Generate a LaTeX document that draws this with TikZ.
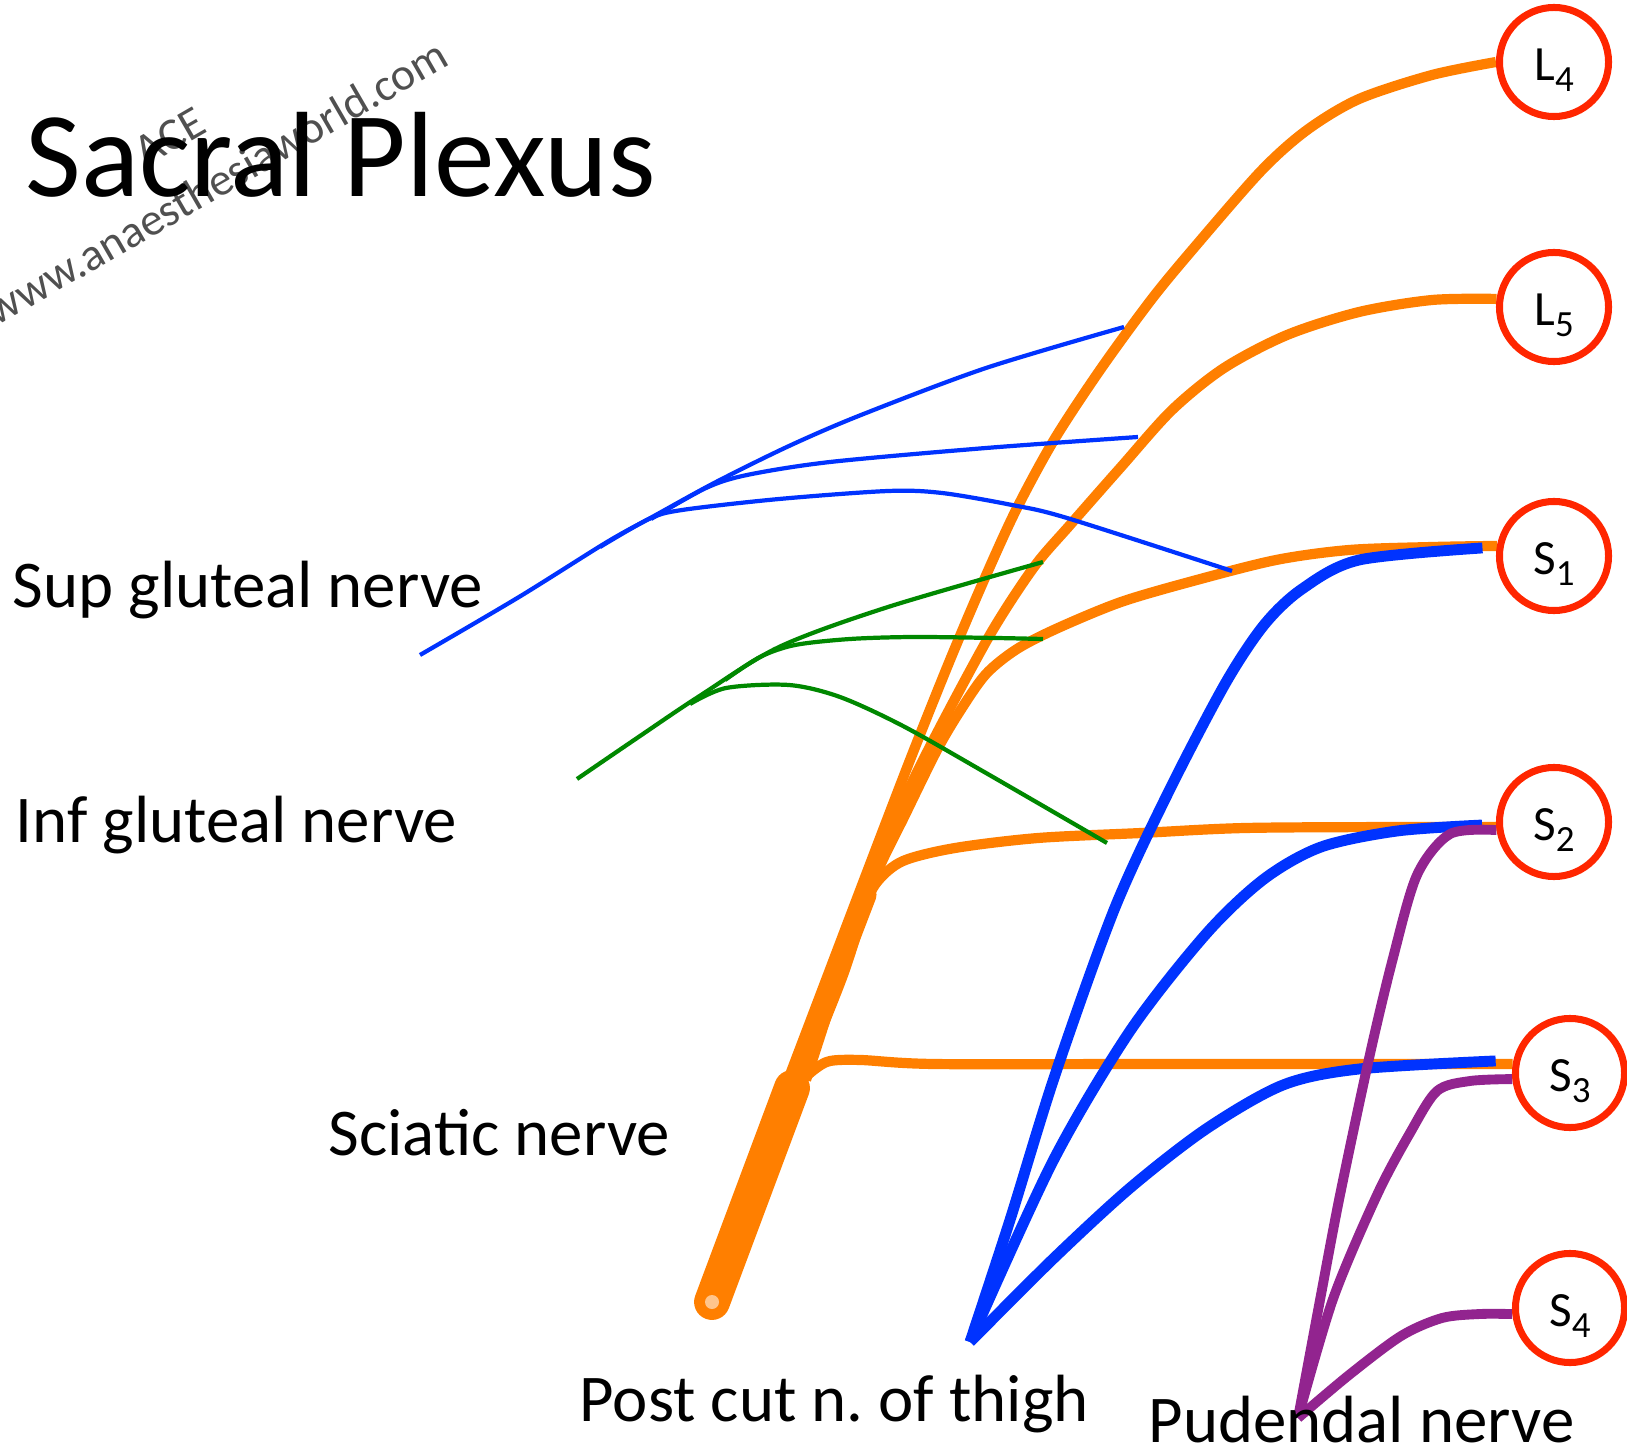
\documentclass[tikz,border=0pt]{standalone}
\usepackage{fontspec}
\setmainfont{Carlito}
\usetikzlibrary{backgrounds}
\definecolor{Root}{RGB}{255,127,0}
\definecolor{Ring}{RGB}{255,38,0}
\definecolor{SupBlue}{RGB}{0,51,255}
\definecolor{InfGreen}{RGB}{0,136,0}
\definecolor{Pud}{RGB}{146,36,143}
\definecolor{Mark}{RGB}{80,80,80}
\newcommand\segsub[1]{\raisebox{-3pt}{\fontsize{10.5}{12}\selectfont #1}}

\begin{document}
\begin{tikzpicture}[x=0.01cm,y=-0.01cm,
    ring/.style={circle,draw=Ring,line width=2pt,minimum size=1.09cm,inner sep=0pt,text height=10.6pt,text depth=0pt,font=\fontsize{14}{16}\selectfont},
    root/.style={Root,line width=2.9pt},
    twig/.style={line width=1.2pt},
    pcut/.style={SupBlue,line width=3.1pt},
    pud/.style={Pud,line width=2.8pt},
    lbl/.style={anchor=base west,inner sep=0pt,font=\fontsize{19}{22}\selectfont},
    wmark/.style={rotate=30,inner sep=0pt,text=Mark,font=\fontsize{13}{15}\selectfont}]
  \useasboundingbox (0,0) rectangle (1627,1449);

  \node[wmark,anchor=base east] (url) at (452,64) {www.anaesthesiaworld.com};
  \node[wmark] (ace) at (170,137) {ACE};
  \node[anchor=base west,inner sep=0pt,font=\fontsize{34.5}{40}\selectfont] (title) at (25,197) {Sacral Plexus};

  \node[lbl] (supl) at (12,607) {Sup gluteal nerve};
  \node[lbl] (infl) at (15,842) {Inf gluteal nerve};
  \node[lbl] (scil) at (328,1155) {Sciatic nerve};
  \node[lbl] (postl) at (579,1421) {Post cut n.\ of thigh};
  \node[lbl] (pudl) at (1148,1442) {Pudendal nerve};

  \node[ring] (L4) at (1554,62) {L\segsub{4}};
  \node[ring] (L5) at (1554,307) {L\segsub{5}};
  \node[ring] (S1) at (1554,556) {S\segsub{1}};
  \node[ring] (S2) at (1554,822) {S\segsub{2}};
  \node[ring] (S3) at (1570,1073) {S\segsub{3}};
  \node[ring] (S4) at (1570,1308) {S\segsub{4}};

  \coordinate (top) at (792,1088);
  \coordinate (fork) at (866,895);
  \coordinate (foot) at (712,1302);
  \coordinate (supfree) at (420,655);
  \coordinate (sup1) at (1124,327);
  \coordinate (sup2) at (1138,437);
  \coordinate (sup3) at (1232,571);
  \coordinate (inffree) at (577,779);
  \coordinate (inf1) at (1043,562);
  \coordinate (inf2) at (1043,639);
  \coordinate (inf3) at (1107,843);
  \coordinate (pc) at (970,1342);
  \coordinate (pd) at (1298,1418);

  \begin{scope}[on background layer]
    \draw[root] plot[smooth] coordinates {(L4.180) (1432,75) (1359,99) (1307,130) (1261,171) (1193,249) (1151,300) (1100,370) (1054,440) (1016,510) (984,580) (950,660) (910,760) (864,880) (826,980) (788,1080)};
    \draw[root] plot[smooth] coordinates {(L5.172) (1432,300) (1359,312) (1287,335) (1224,368) (1172,410) (1121,467) (1070,525) (1034,567) (991,633) (937,733) (904,800) (872,880) (840,975) (806,1080)};
    \draw[root] plot[smooth] coordinates {(S1.170) (1432,547) (1349,550) (1276,560) (1193,581) (1121,602) (1058,628) (1017,649) (986,674) (960,711) (937,750) (905,815) (874,880) (843,975) (800,1082)};
    \draw[root] plot[smooth] coordinates {(S2.185) (1401,827) (1245,828) (1141,833) (1038,838) (955,848) (903,861) (877,882) (861,913) (846,955) (825,1017) (796,1085)};
    \draw[root] plot[smooth] coordinates {(S3.171) (1349,1064) (1141,1064) (934,1064) (861,1060) (830,1061) (815,1069) (800,1082)};
    \draw[Root,line width=6pt,line cap=round] (fork) -- (top);
    \draw[Root,line width=10.2pt,line cap=round] (foot) -- (top);
    \fill[Root!45!white] (foot) circle (7);

    \draw[twig,SupBlue] plot[smooth] coordinates {(supfree) (519,597) (607,542) (654,516) (716,482) (789,446) (861,415) (986,368) (sup1)};
    \draw[twig,SupBlue] plot[smooth] coordinates {(651,519) (706,488) (747,475) (830,462) (986,448) (sup2)};
    \draw[twig,SupBlue] plot[smooth] coordinates {(600,547) (649,519) (682,510) (779,499) (888,491) (942,493) (1012,505) (1067,518) (sup3)};

    \draw[twig,InfGreen] plot[smooth] coordinates {(inffree) (640,736) (698,697) (779,647) (888,607) (inf1)};
    \draw[twig,InfGreen] plot[smooth] coordinates {(725,680) (760,657) (795,645) (850,639) (913,637) (996,638) (inf2)};
    \draw[twig,InfGreen] plot[smooth] coordinates {(690,704) (726,688) (789,685) (840,697) (903,726) (986,773) (inf3)};

    \draw[pcut] plot[smooth] coordinates {(pc) (1010,1220) (1055,1075) (1114,910) (1168,793) (1225,684) (1264,625) (1302,589) (1359,560) ([xshift=-4pt]S1.172)};
    \draw[pcut] plot[smooth] coordinates {(pc) (1053,1161) (1130,1031) (1206,934) (1264,879) (1321,847) (1397,831) ([xshift=-4pt]S2.183)};
    \draw[pcut] plot[smooth] coordinates {(pc) (1053,1259) (1130,1188) (1206,1129) (1283,1085) (1359,1069) ([xshift=-5pt]S3.168)};

    \draw[pud] plot[smooth] coordinates {(pd) (1320,1300) (1340,1195) (1370,1054) (1393,958) (1417,875) (1450,834) (S2.188)};
    \draw[pud] plot[smooth] coordinates {(pd) (1333,1299) (1377,1195) (1410,1133) (1437,1091) (1470,1081) (S3.186)};
    \draw[pud] plot[smooth] coordinates {(pd) (1349,1375) (1401,1336) (1442,1318) (1480,1314) (S4.186)};
  \end{scope}
\end{tikzpicture}
\end{document}
